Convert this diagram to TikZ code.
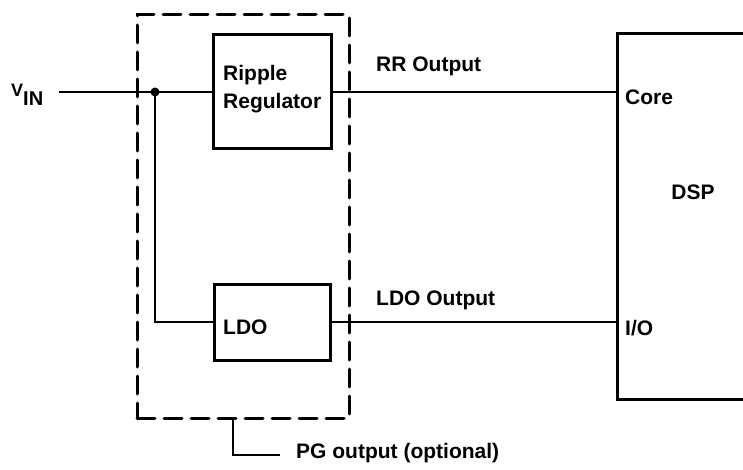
\documentclass[tikz,border=0pt]{standalone}
\usepackage{fontspec}
\setmainfont{Liberation Sans}
\usepackage{tikz}
\usetikzlibrary{positioning, calc}

\tikzset{
  lbl/.style={font=\bfseries\fontsize{21}{28}\selectfont, inner sep=0pt},
  blk/.style={draw, line width=3pt, inner sep=0pt, outer sep=0pt, rectangle},
  wire/.style={line width=2pt},
}

\begin{document}
\begin{tikzpicture}[x=1pt, y=-1pt]
  \clip (0,0) rectangle (743,470);
  % blocks
  \node[blk, minimum width=118pt, minimum height=114pt] (rr)  at (272,92)  {};
  \node[blk, minimum width=116pt, minimum height=76pt]  (ldo) at (272,322) {};
  \node[blk, minimum width=160pt, minimum height=365pt, anchor=north west] (dsp) at (617,34) {};
  \node[draw, line width=3pt, dash pattern=on 18pt off 9pt, line cap=round,
        minimum width=212pt, minimum height=403pt, inner sep=0pt] (pg) at (243,216.5) {};

  % texts
  \node[lbl, align=left, anchor=west] (rrtext) at (223,89) {Ripple\\Regulator};
  \node[lbl, anchor=west] (ldotext) at (223,327) {LDO};
  \node[lbl, anchor=west] (core) at (625,97) {Core};
  \node[lbl, anchor=west] (io) at (625,328) {I/O};
  \node[lbl] (dsptext) at (693,192) {DSP};
  \node[lbl, anchor=west] (rrout) at (376,66) {RR Output};
  \node[lbl, anchor=west] (ldoout) at (376,300) {LDO Output};
  \node[lbl, anchor=west] (pgout) at (296,453) {PG output (optional)};
  \node[lbl, anchor=base west] (vin) at (11,97)
    {{\fontsize{18}{18}\selectfont V}\raisebox{-9pt}{\fontsize{20}{20}\selectfont IN}};

  % wiring
  \coordinate (vinend) at (59,92);
  \coordinate (junc) at (155,92);
  \coordinate (pgtap) at (233,418);
  \coordinate (pgend) at (280,455);
  \draw[wire] (vinend) -- (rr.west);
  \draw[wire] (junc) |- (ldo.west);
  \fill (junc) circle (4.5pt);
  \draw[wire] (rr.east) -- (dsp.west |- rr.east);
  \draw[wire] (ldo.east) -- (dsp.west |- ldo.east);
  \draw[wire] (pgtap) |- (pgend);
\end{tikzpicture}
\end{document}
